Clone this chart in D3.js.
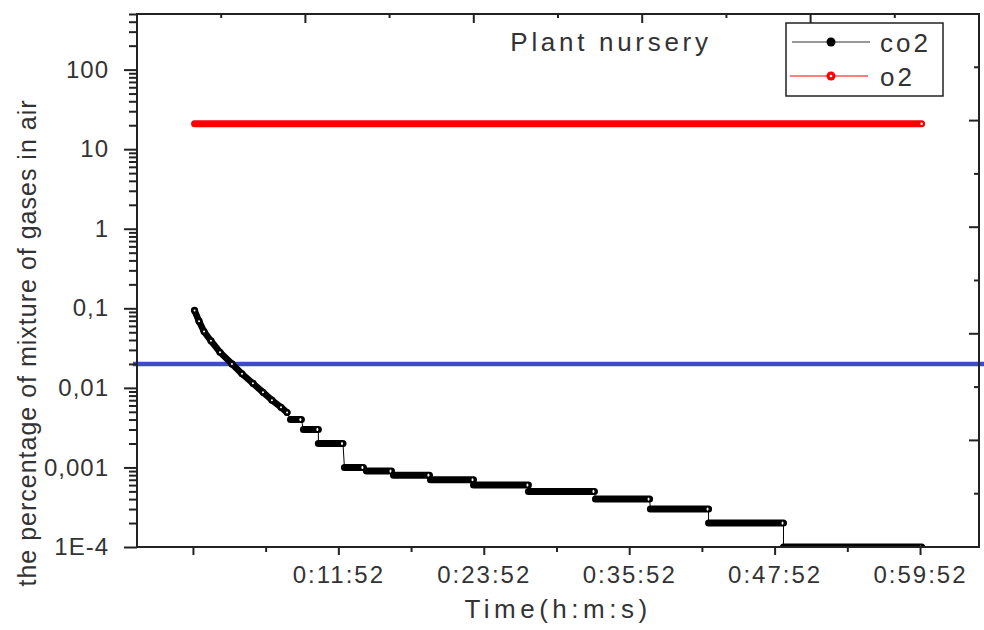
<!DOCTYPE html>
<html>
<head>
<meta charset="utf-8">
<script src="https://cdn.jsdelivr.net/npm/d3@7"></script>
<style>
  body { margin: 0; background: #fff; }
  svg text { font-family: "Liberation Sans", Arial, sans-serif; fill: #333; }
</style>
</head>
<body>
<svg id="chart" width="984" height="630"></svg>
<script>
// times are seconds from the start of the record, values are % of the air
var co2CurveTimes  = [0, 22, 47, 81, 126, 185, 235, 289, 339, 383, 428, 458];
var co2CurveValues = [0.094, 0.069, 0.051, 0.039, 0.028, 0.020, 0.015, 0.0114, 0.0088, 0.0070, 0.0057, 0.0049];

// flat runs of the co2 reading: level, first sample, last sample
var co2StepValues = [0.004, 0.003, 0.002, 0.001, 0.0009, 0.0008, 0.0007, 0.0006, 0.0005, 0.0004, 0.0003, 0.0002, 0.0001];
var co2StepStart  = [475, 539, 613, 742, 851, 985, 1168, 1381, 1653, 1985, 2257, 2545, 2916];
var co2StepEnd    = [529, 613, 735, 836, 975, 1163, 1381, 1653, 1980, 2253, 2545, 2916, 3600];

var o2Times  = [0, 3600];
var o2Values = [20.9, 20.9];

var limitValue = 0.02;

var yTickValues = [1e-4, 1e-3, 1e-2, 0.1, 1, 10, 100];
var yTickLabels = ["1E-4", "0,001", "0,01", "0,1", "1", "10", "100"];
var xTickValues = [-8, 712, 1432, 2152, 2872, 3592];
var xTickLabels = ["", "0:11:52", "0:23:52", "0:35:52", "0:47:52", "0:59:52"];
var xMinorValues = [352, 1072, 1792, 2512, 3232];

var svg = d3.select("#chart");
var pL = 137, pR = 979, pT = 14, pB = 547;

var x = d3.scaleLinear().domain([-285, 3884]).range([pL, pR]);
var y = d3.scaleLog().domain([1e-4, 500]).range([pB, pT]);

// minor log ticks 2..9 of every decade inside the domain
var yMinor = [];
for (var e = -4; e <= 2; e++) {
  for (var m = 2; m <= 9; m++) {
    var v = m * Math.pow(10, e);
    if (v <= 500) yMinor.push(v);
  }
}

svg.append("clipPath").attr("id", "plotclip")
  .append("rect").attr("x", pL).attr("y", pT)
  .attr("width", pR - pL).attr("height", pB - pT);

// limit line, runs past the frame on the right
svg.append("line")
  .attr("x1", pL - 4).attr("x2", 984)
  .attr("y1", y(limitValue)).attr("y2", y(limitValue))
  .attr("stroke", "#3d4cc6").attr("stroke-width", 4.5);

var plot = svg.append("g").attr("clip-path", "url(#plotclip)");

// o2 band
var o2Pts = o2Times.map(function(t, i) { return [t, o2Values[i]]; });
var line = d3.line().x(function(d) { return x(d[0]); }).y(function(d) { return y(d[1]); });
plot.append("path").attr("d", line(o2Pts))
  .attr("fill", "none").attr("stroke", "#ff0000")
  .attr("stroke-width", 7).attr("stroke-linecap", "round");
plot.append("circle")
  .attr("cx", x(o2Times[o2Times.length - 1])).attr("cy", y(o2Values[o2Values.length - 1]))
  .attr("r", 1.2).attr("fill", "#fff");

// co2: all samples in order, for the thin joining line
var co2Pts = co2CurveTimes.map(function(t, i) { return [t, co2CurveValues[i]]; });
co2StepValues.forEach(function(v, i) {
  co2Pts.push([co2StepStart[i], v]);
  co2Pts.push([co2StepEnd[i], v]);
});
plot.append("path").attr("d", line(co2Pts))
  .attr("fill", "none").attr("stroke", "#000").attr("stroke-width", 1);

var curvePts = co2CurveTimes.map(function(t, i) { return [t, co2CurveValues[i]]; });
plot.append("path").attr("d", line(curvePts))
  .attr("fill", "none").attr("stroke", "#000")
  .attr("stroke-width", 6.5).attr("stroke-linecap", "round").attr("stroke-linejoin", "round");
plot.selectAll(".cmark").data(curvePts).enter().append("circle")
  .attr("cx", function(d) { return x(d[0]); })
  .attr("cy", function(d) { return y(d[1]); })
  .attr("r", 3.6).attr("fill", "#000");
plot.selectAll(".chole").data(curvePts).enter().append("circle")
  .attr("cx", function(d) { return x(d[0]); })
  .attr("cy", function(d) { return y(d[1]); })
  .attr("r", 1).attr("fill", "#fff");

// steps drawn as runs of overlapping markers
co2StepValues.forEach(function(v, i) {
  plot.append("line")
    .attr("x1", x(co2StepStart[i])).attr("x2", x(co2StepEnd[i]))
    .attr("y1", y(v)).attr("y2", y(v))
    .attr("stroke", "#000").attr("stroke-width", 7).attr("stroke-linecap", "round");
  plot.append("ellipse")
    .attr("cx", x(co2StepEnd[i]) - 1).attr("cy", y(v))
    .attr("rx", 1).attr("ry", 1.6).attr("fill", "#fff");
});

// frame
svg.append("rect")
  .attr("x", pL).attr("y", pT).attr("width", pR - pL).attr("height", pB - pT)
  .attr("fill", "none").attr("stroke", "#222").attr("stroke-width", 2);

// left axis
var yAxis = svg.append("g").attr("transform", "translate(" + pL + ",0)")
  .call(d3.axisLeft(y).tickValues(yTickValues)
    .tickFormat(function(d, i) { return yTickLabels[i]; })
    .tickSize(13).tickPadding(15));
svg.append("g").attr("transform", "translate(" + pL + ",0)")
  .call(d3.axisLeft(y).tickValues(yMinor).tickFormat("").tickSize(8));

// bottom axis
var xAxis = svg.append("g").attr("transform", "translate(0," + pB + ")")
  .call(d3.axisBottom(x).tickValues(xTickValues)
    .tickFormat(function(d, i) { return xTickLabels[i]; })
    .tickSize(8).tickPadding(11));
svg.append("g").attr("transform", "translate(0," + pB + ")")
  .call(d3.axisBottom(x).tickValues(xMinorValues).tickFormat("").tickSize(5));

svg.selectAll(".domain").remove();
svg.selectAll(".tick line").attr("stroke", "#222").attr("stroke-width", 2);
yAxis.selectAll("text").style("font-size", "24px").style("letter-spacing", "1px").attr("fill", "#3a3a44");
xAxis.selectAll("text").style("font-size", "24px").style("letter-spacing", "2px").attr("fill", "#3a3a44");

// top and right edges only carry plain division ticks, pointing inward
var topDiv = d3.scaleLinear().domain([0, 10]).range([pL, pR]);
var rightDiv = d3.scaleLinear().domain([0, 10]).range([pB, pT]);
var divs = d3.range(1, 10);
svg.selectAll(".ttick").data(divs).enter().append("line")
  .attr("x1", function(d) { return topDiv(d); }).attr("x2", function(d) { return topDiv(d); })
  .attr("y1", pT).attr("y2", function(d) { return pT + (d % 2 == 0 ? 9 : 4); })
  .attr("stroke", "#222").attr("stroke-width", 2);
svg.selectAll(".rtick").data(divs).enter().append("line")
  .attr("y1", function(d) { return rightDiv(d); }).attr("y2", function(d) { return rightDiv(d); })
  .attr("x1", pR).attr("x2", function(d) { return pR - (d % 2 == 0 ? 10 : 5); })
  .attr("stroke", "#222").attr("stroke-width", 2);

// titles
svg.append("text").attr("x", 558).attr("y", 618).attr("text-anchor", "middle")
  .style("font-size", "26px").style("letter-spacing", "4.5px").text("Time(h:m:s)");
svg.append("text").attr("transform", "translate(36,343) rotate(-90)").attr("text-anchor", "middle")
  .style("font-size", "25px").style("letter-spacing", "1px")
  .text("the percentage of mixture of gases in air");
svg.append("text").attr("x", 611).attr("y", 51).attr("text-anchor", "middle")
  .style("font-size", "26px").style("letter-spacing", "3.7px").text("Plant nursery");

// legend
var lg = svg.append("g");
lg.append("rect").attr("x", 786).attr("y", 23).attr("width", 157).attr("height", 73)
  .attr("fill", "#fff").attr("stroke", "#222").attr("stroke-width", 1.5);
lg.append("line").attr("x1", 792).attr("x2", 870).attr("y1", 42).attr("y2", 42)
  .attr("stroke", "#333").attr("stroke-width", 1);
lg.append("circle").attr("cx", 831).attr("cy", 42).attr("r", 4.5).attr("fill", "#000");
lg.append("line").attr("x1", 790).attr("x2", 868).attr("y1", 76).attr("y2", 76)
  .attr("stroke", "#ff0000").attr("stroke-width", 1);
lg.append("circle").attr("cx", 831).attr("cy", 76).attr("r", 4.5).attr("fill", "#ff0000");
lg.append("circle").attr("cx", 831).attr("cy", 76).attr("r", 1.3).attr("fill", "#fff");
lg.append("text").attr("x", 880).attr("y", 52).style("font-size", "26px").style("letter-spacing", "3px").text("co2");
lg.append("text").attr("x", 880).attr("y", 86).style("font-size", "26px").style("letter-spacing", "3px").text("o2");
</script>
</body>
</html>
